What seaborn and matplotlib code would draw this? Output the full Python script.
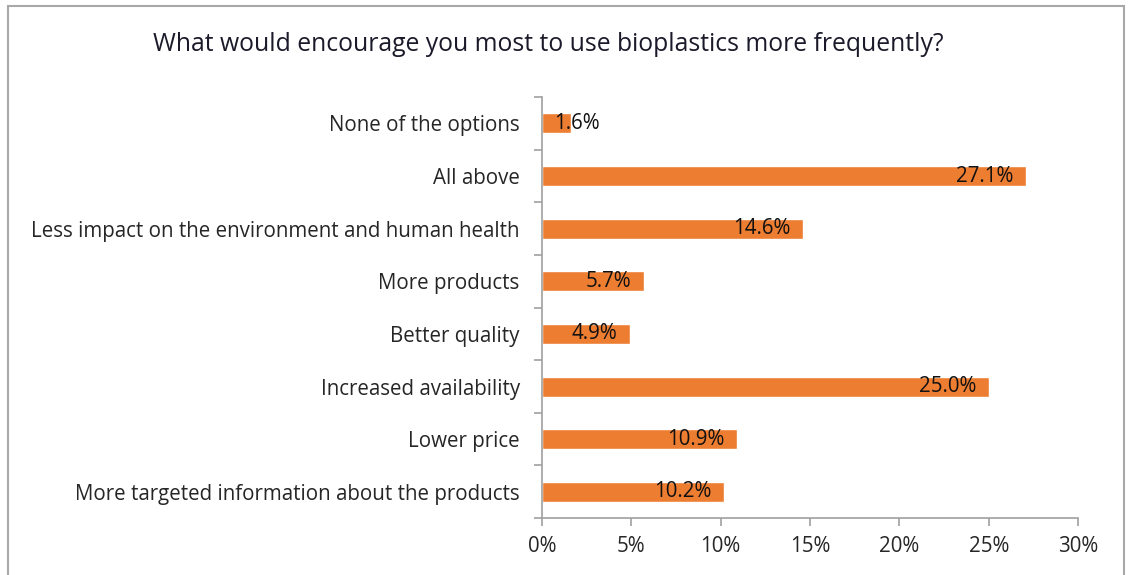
import matplotlib
matplotlib.use("Agg")
import matplotlib.pyplot as plt
import seaborn as sns
import pandas as pd
from matplotlib.patches import Rectangle

categories = [
    "None of the options",
    "All above",
    "Less impact on the environment and human health",
    "More products",
    "Better quality",
    "Increased availability",
    "Lower price",
    "More targeted information about the products",
]
values = [1.6, 27.1, 14.6, 5.7, 4.9, 25.0, 10.9, 10.2]
xticks = [0, 5, 10, 15, 20, 25, 30]
title = "What would encourage you most to use bioplastics more frequently?"

sns.set_theme(style="white")
plt.rcParams["font.family"] = ["Open Sans", "DejaVu Sans"]

df = pd.DataFrame({"cat": categories, "val": values})

fig = plt.figure(figsize=(11.29, 5.75), dpi=100)
ax = fig.add_axes([0.480, 0.099, 0.475, 0.732])

sns.barplot(data=df, x="val", y="cat", orient="h", color="#ED7D31",
            saturation=1, width=0.38, ax=ax)

ax.set_xlim(0, 30)
ax.set_ylim(len(categories) - 0.5, -0.5)
ax.set_xticks(xticks)
ax.set_xticklabels([f"{t}%" for t in xticks])
ax.set_xlabel("")
ax.set_ylabel("")

fs = 14.8
# Category ticks at boundaries (Excel style)
ax.set_yticks(range(len(categories)))
ax.set_yticklabels(categories)
ax.tick_params(axis="y", length=0, pad=16, labelsize=fs, labelcolor="#262626")
ax.set_yticks([i - 0.5 for i in range(len(categories) + 1)], minor=True)
ax.tick_params(axis="y", which="minor", length=6, width=1.2, color="#A0A0A0", left=True)
ax.tick_params(axis="x", length=6, width=1.2, color="#A0A0A0", bottom=True,
               labelsize=fs, labelcolor="#262626", pad=7)

for s in ["top", "right"]:
    ax.spines[s].set_visible(False)
for s in ["left", "bottom"]:
    ax.spines[s].set_color("#A0A0A0")
    ax.spines[s].set_linewidth(1.2)

for i, v in enumerate(values):
    label = f"{v:.1f}%"
    if v < 3:
        ax.annotate(label, xy=(0, i), xytext=(9, 0), textcoords="offset points",
                    ha="left", va="center", fontsize=fs, color="#111111")
    else:
        ax.annotate(label, xy=(v, i), xytext=(-9, 0), textcoords="offset points",
                    ha="right", va="center", fontsize=fs, color="#111111")

fig.text(0.486, 0.922, title, ha="center", va="center", fontsize=17.8, color="#1a1a2a")

fig.patches.append(Rectangle((0.007, -0.01), 0.989, 0.999, transform=fig.transFigure,
                             fill=False, edgecolor="#A8A8A8", linewidth=1.5))

fig.savefig("out.png", dpi=100)
